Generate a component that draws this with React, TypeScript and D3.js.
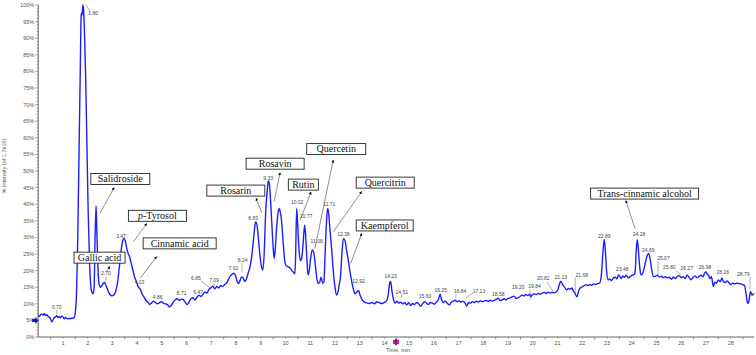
import React from "react";
import * as d3 from "d3";

// ---------- DATA ----------
// chromatogram trace: [retention time (min), % intensity]
const chromatogram: [number, number][] = [
  [0,6.6],[0.05,6.2],[0.1,6.8],[0.15,6.9],[0.2,6.6],[0.25,7.0],[0.3,6.5],[0.35,6.7],[0.4,6.2],[0.45,6.0],[0.5,5.4],[0.55,4.5],[0.6,5.2],[0.65,5.8],[0.7,6.0],[0.75,6.4],[0.8,5.9],[0.85,6.2],[0.9,5.7],[0.95,6.3],[1.0,6.1],[1.05,5.5],[1.1,5.9],[1.15,5.6],[1.2,5.5],[1.25,5.6],[1.3,5.5],[1.35,5.7],[1.4,5.6],[1.45,5.8],
  [1.5,7.5],[1.55,13],[1.6,30],[1.65,55],[1.7,80],[1.74,97],[1.76,97.5],[1.78,97],[1.8,100],[1.83,99],[1.87,92],[1.92,78],[1.97,58],[2.02,38],[2.07,24],[2.12,16],[2.17,13.5],[2.22,13],[2.26,15],[2.3,30],[2.34,39.5],[2.37,32],[2.41,22],[2.46,16],[2.52,15],[2.6,15.8],[2.68,16.5],[2.74,15.5],[2.82,14],[2.9,12.8],[2.98,12.4],[3.05,12.6],[3.12,13.5],[3.2,16],[3.28,21],[3.36,26.5],[3.43,29.3],[3.47,29.7],[3.52,29],[3.6,26],[3.7,24],[3.8,21],[3.9,18],[3.98,16.5],[4.05,15],[4.12,14.5],[4.2,13],[4.28,12],[4.36,11],[4.45,10.3],[4.5,9.8],[4.58,10.2],[4.66,10.8],[4.74,10.4],[4.82,10],[4.9,10.3],[4.98,10.6],[5.06,10.2],[5.14,10],[5.22,9.8],[5.3,9.1],[5.38,9.5],[5.46,10.5],[5.54,11.2],[5.62,11.5],[5.7,11],[5.78,11.4],[5.86,11.3],[5.94,10.5],[6.02,9.8],[6.1,10.5],[6.18,11.6],[6.26,11.8],[6.34,11.2],[6.42,12],[6.5,12.6],[6.58,12.2],[6.66,12.8],[6.74,13.6],[6.82,13.2],[6.9,14.3],[6.98,14.8],[7.06,15.3],[7.14,14.5],[7.22,15.2],[7.3,14.8],[7.38,15.5],[7.46,15.2],[7.54,15.8],[7.62,16.3],[7.7,17.5],[7.78,18.5],[7.86,19],[7.92,19.2],[7.98,18.5],[8.04,16.8],[8.1,16.1],[8.16,17],[8.22,18],[8.27,18],[8.32,17.2],[8.37,16.7],[8.44,18],[8.5,19.5],[8.56,21],[8.62,23.5],[8.68,27.5],[8.74,32],[8.79,34.7],[8.84,34],[8.9,30],[8.96,25],[9.02,21.5],[9.08,20.2],[9.13,24],[9.2,38],[9.26,44],[9.3,46.8],[9.33,47],[9.37,44],[9.44,35],[9.5,27],[9.54,23.7],[9.58,26],[9.64,33],[9.7,37.5],[9.74,38.7],[9.78,38],[9.84,35],[9.9,29],[9.96,23.5],[10.02,21.5],[10.1,21.2],[10.18,20.8],[10.26,20],[10.32,19.5],[10.38,19],[10.41,25],[10.45,38.7],[10.49,34],[10.55,26],[10.6,23],[10.66,24],[10.72,29],[10.77,33.7],[10.81,31],[10.86,24],[10.91,18.7],[10.96,20],[11.02,24],[11.08,26.2],[11.14,25.5],[11.2,22],[11.26,18],[11.32,16.1],[11.38,16.5],[11.44,18],[11.5,16.2],[11.55,16.5],[11.6,25],[11.66,35],[11.7,38.7],[11.74,37.5],[11.8,32],[11.87,26],[11.93,20],[12.0,15],[12.06,12.6],[12.12,13.5],[12.17,15.6],[12.22,18],[12.28,25],[12.34,29.6],[12.4,29.2],[12.47,26],[12.54,23],[12.6,20],[12.67,17],[12.74,14.5],[12.81,13],[12.88,13.5],[12.95,14],[13.02,12.5],[13.1,11.2],[13.2,10.5],[13.3,10.2],[13.4,10.1],[13.5,10.4],[13.6,10],[13.7,10.6],[13.8,10.3],[13.9,10.1],[14.0,10.4],[14.08,10.8],[14.15,12.5],[14.21,16.2],[14.25,16.7],[14.3,14],[14.36,11.5],[14.43,10.2],[14.5,10.8],[14.58,10.2],[14.66,10.5],[14.74,10],[14.82,10.4],[14.9,9.7],[14.98,10.3],[15.06,9.5],[15.14,10.1],[15.22,9.8],[15.3,10.4],[15.38,10],[15.46,9.3],[15.54,10],[15.62,10.6],[15.7,10.2],[15.78,9.8],[15.86,10.4],[15.94,10.2],[16.02,9.9],[16.1,10.5],[16.18,11.2],[16.25,12.9],[16.3,11.5],[16.38,10.4],[16.46,10.8],[16.54,10.2],[16.62,9.6],[16.7,10.4],[16.78,10.8],[16.86,11.1],[16.94,10.6],[17.02,10.9],[17.1,10.5],[17.18,10.8],[17.26,10.2],[17.33,9.3],[17.4,10.4],[17.48,10.2],[17.56,10.6],[17.64,10.4],[17.72,10.8],[17.8,10.5],[17.88,10.9],[17.96,10.6],[18.04,10.9],[18.12,11],[18.2,10.7],[18.28,11.1],[18.36,10.8],[18.44,11],[18.52,11.4],[18.6,11.7],[18.68,11],[18.76,11.2],[18.84,11.5],[18.92,11.2],[19.0,11.6],[19.08,11.8],[19.16,12.1],[19.25,12.3],[19.32,11.6],[19.4,11.8],[19.48,12.2],[19.56,12.6],[19.64,12.4],[19.72,12.8],[19.8,12.5],[19.88,12.9],[19.92,12.1],[19.98,12.8],[20.06,13],[20.14,12.8],[20.22,13.1],[20.3,12.9],[20.38,13.2],[20.46,13.4],[20.54,13.1],[20.62,13.5],[20.7,13.3],[20.78,13.4],[20.86,13.3],[20.94,13.6],[21.0,14],[21.06,15.5],[21.13,16.8],[21.2,15.8],[21.28,15],[21.36,14.2],[21.44,14.6],[21.52,14.4],[21.58,14.8],[21.64,13.8],[21.7,13.2],[21.78,12.1],[21.84,13.5],[21.9,14.7],[21.98,15],[22.06,15.4],[22.14,15.7],[22.22,15.5],[22.3,15.8],[22.38,15.6],[22.46,16],[22.54,15.8],[22.62,16.1],[22.7,16.3],[22.76,18],[22.82,24],[22.86,28],[22.89,29.3],[22.93,26],[22.98,20],[23.04,17.2],[23.1,17.5],[23.18,17],[23.26,17.8],[23.34,18],[23.4,17.5],[23.46,18.7],[23.52,18.2],[23.58,17.6],[23.64,18.4],[23.7,18],[23.78,18.6],[23.86,17.8],[23.94,18.2],[24.02,18.6],[24.1,18.8],[24.14,20],[24.18,26],[24.22,29.3],[24.26,27],[24.31,22],[24.36,19],[24.4,18.7],[24.46,19.5],[24.54,22],[24.62,24.5],[24.68,25.2],[24.74,23.5],[24.8,20.5],[24.88,18.2],[24.96,18.3],[25.04,18.6],[25.12,18.1],[25.2,18.3],[25.28,17.9],[25.36,18.2],[25.44,17.8],[25.52,18],[25.6,17.4],[25.68,18.1],[25.76,17.6],[25.84,18.3],[25.92,18.5],[26.0,17.9],[26.08,18.2],[26.16,17.6],[26.24,18.7],[26.32,17.9],[26.4,17.2],[26.48,18],[26.56,18.4],[26.64,17.8],[26.72,18.3],[26.8,18.6],[26.88,18.1],[26.94,19.2],[26.99,19.7],[27.04,19],[27.1,18.6],[27.16,17.6],[27.22,18.2],[27.3,15.2],[27.36,16.5],[27.42,16.2],[27.5,17.2],[27.58,16.6],[27.64,17.8],[27.7,16.8],[27.78,16.4],[27.86,16.9],[27.94,16.2],[28.0,15.8],[28.08,16.2],[28.16,16],[28.24,16.2],[28.32,16.1],[28.4,16],[28.48,15.8],[28.56,15.5],[28.62,13],[28.67,10.5],[28.71,10.1],[28.75,11.5],[28.8,13.7],[28.86,12.6],[28.92,13],[28.95,12.8]
];

// retention-time labels: text, anchor time, anchor % (label centre)
const peakLabelText = ["0.70","1.80","2.70","3.47","4.03","4.86","5.71","6.47","6.85","7.09","7.92","8.24","8.83","9.33","10.02","10.77","11.08","11.71","12.38","12.92","14.23","14.51","15.60","16.25","16.84","17.13","18.58","19.20","19.84","20.82","21.13","21.68","22.89","23.48","24.28","24.69","25.07","25.80","26.27","26.98","28.16","28.79"];
const peakLabelTime = [0.75,2.22,2.74,3.35,4.09,4.83,5.8,6.47,6.38,7.11,7.89,8.27,8.69,9.3,10.47,10.83,11.26,11.77,12.34,12.95,14.25,14.7,15.64,16.28,17.06,17.82,18.6,19.41,20.07,20.42,21.13,21.98,22.89,23.62,24.29,24.67,25.28,25.52,26.22,26.96,27.68,28.51];
const peakLabelPct = [9.1,97.6,19.3,30.4,16.4,12.1,13.2,13.6,17.7,17.2,20.7,23.2,35.8,47.8,40.7,36.4,28.8,40.1,31.0,16.7,18.2,13.6,12.2,14.2,13.9,13.9,13.0,15.0,15.4,17.7,17.9,18.5,30.5,20.5,30.9,26.2,23.7,21.0,20.7,21.0,19.4,19.0];

// leader lines for labels: [t1, p1, t2, p2]
const leaderLines: [number, number, number, number][] = [
  [1.93,100,2.09,98.2],[0.75,8.1,0.75,6.9],[2.74,18.1,2.74,16.9],[4.1,15.4,4.1,14.2],
  [6.58,16.9,6.95,14.8],[7.11,16.3,7.11,15.1],[8.24,22.3,8.24,19.6],[14.7,12.8,14.7,11.7],
  [16.89,13,16.89,11.7],[17.58,13.3,17.3,11.7],[19.89,14.3,19.89,11.1],[20.57,16.6,20.86,13.3],
  [21.71,17.8,21.71,13.3],[25.06,22.9,25.06,18.7],[25.79,19.9,26.0,18.7],[28.78,18.1,28.78,14.2]
];

// compound annotations
const compoundNames = ["Salidroside","Gallic acid","p-Tyrosol","Cinnamic acid","Rosarin","Rosavin","Rutin","Quercetin","Quercitrin","Kaempferol","Trans-cinnamic alcohol"];
const compoundBoxTime = [3.32,2.48,4.82,5.72,7.99,9.58,10.72,12.05,14.03,14.01,24.52];
const compoundBoxPct = [47.6,23.9,36.5,28.2,44.1,52.2,45.9,56.6,46.5,33.6,43.2];
const compoundArrowFrom: [number, number][] = [[2.5,37.3],[2.74,19.6],[3.85,28.7],[4.12,17.7],[9.04,37.4],[9.54,40.8],[10.59,35.2],[11.19,26.7],[11.93,31.7],[12.64,22.2],[24.13,32.7]];
const compoundArrowTo: [number, number][] = [[3.07,45],[2.9,21.2],[4.39,34.2],[4.79,24.2],[8.81,41.8],[9.78,49.5],[11.03,43.7],[11.93,53.3],[13.08,43.8],[13.08,31.2],[23.76,41.1]];

const xTicks = d3.range(1, 29);
const yTicks = d3.range(0, 101, 5);

// ---------- LAYOUT ----------
const W = 756, H = 355;
const boxWidths = [59,51,58,73,58,58,30,59,58,57,108];
const BOX_H = 11;

export default function App() {
  const x = d3.scaleLinear().domain([0, 28.95]).range([38.2, 754.2]);
  const y = d3.scaleLinear().domain([0, 100]).range([337, 5]);
  const line = d3.line<[number, number]>().x(d => x(d[0])).y(d => y(d[1])).curve(d3.curveMonotoneX);
  const gray = "#555";
  const axisColor = "#666";
  const minorY = d3.range(0, 101, 1);
  const halfTicks = d3.range(0.5, 29, 1);
  const star = d3.symbol(d3.symbolAsterisk, 30)();

  return (
    <svg width={W} height={H} style={{ position: "absolute", left: 0, top: 0, background: "#fff" }}>
      <defs>
        <marker id="ah" viewBox="0 0 8 8" refX="7" refY="4" markerWidth="5" markerHeight="5" orient="auto">
          <path d="M0,0 L8,4 L0,8 z" fill="#111" />
        </marker>
      </defs>
      {/* y axis */}
      <line x1={x(0)} x2={x(0)} y1={y(100)} y2={y(0)} stroke={axisColor} strokeWidth={1} />
      {minorY.map(v => (
        <line key={"my" + v} x1={x(0) - (v % 5 === 0 ? 3 : 1.5)} x2={x(0)} y1={y(v)} y2={y(v)} stroke={axisColor} strokeWidth={0.6} />
      ))}
      {yTicks.map(v => (
        <text key={"yt" + v} x={x(0) - 4} y={y(v) + 2} textAnchor="end" fontSize={5.5} fontFamily="Liberation Sans, Arial" fill={gray}>{v + "%"}</text>
      ))}
      <text transform={`translate(6,166) rotate(-90)`} textAnchor="middle" fontSize={5.5} fontFamily="Liberation Sans, Arial" fill={gray}>% Intensity (of 1.7e10)</text>
      {/* x axis */}
      <line x1={x(0)} x2={x(28.95)} y1={y(0)} y2={y(0)} stroke={axisColor} strokeWidth={1} />
      {halfTicks.map(v => (
        <line key={"hx" + v} x1={x(v)} x2={x(v)} y1={y(0)} y2={y(0) + 2.5} stroke={axisColor} strokeWidth={0.7} />
      ))}
      {xTicks.map(v => (
        <line key={"mx" + v} x1={x(v)} x2={x(v)} y1={y(0)} y2={y(0) + 1.5} stroke={axisColor} strokeWidth={0.7} />
      ))}
      {xTicks.map(v => (
        <text key={"xt" + v} x={x(v)} y={y(0) + 8} textAnchor="middle" fontSize={5.5} fontFamily="Liberation Sans, Arial" fill={gray}>{v}</text>
      ))}
      <text x={x(14.55)} y={352} textAnchor="middle" fontSize={5.5} fontFamily="Liberation Sans, Arial" fill={gray}>Time, min</text>
      <path d={star || ""} transform={`translate(${x(14.47)},${y(0) + 5})`} fill="none" stroke="#8e1a8e" strokeWidth={2} />
      {/* start marker */}
      <path d={`M${x(0) - 6},${y(5) - 1.6} L${x(0) - 3},${y(5) - 1.6} L${x(0) - 3},${y(5) - 3.4} L${x(0) + 0.5},${y(5)} L${x(0) - 3},${y(5) + 3.4} L${x(0) - 3},${y(5) + 1.6} L${x(0) - 6},${y(5) + 1.6} Z`} fill="#1010d0" />
      {/* trace */}
      <path d={line(chromatogram) || ""} fill="none" stroke="#1e1eff" strokeWidth={1.4} strokeLinejoin="round" />
      {/* leader lines */}
      {leaderLines.map((l, i) => (
        <line key={"ll" + i} x1={x(l[0])} y1={y(l[1])} x2={x(l[2])} y2={y(l[3])} stroke="#777" strokeWidth={0.6} />
      ))}
      {/* peak labels */}
      {peakLabelText.map((t, i) => (
        <text key={"pl" + i} x={x(peakLabelTime[i])} y={y(peakLabelPct[i]) + 1.8} textAnchor="middle" fontSize={5} fontFamily="Liberation Sans, Arial" fill="#444">{t}</text>
      ))}
      {/* arrows */}
      {compoundNames.map((n, i) => (
        <line key={"ar" + i} x1={x(compoundArrowFrom[i][0])} y1={y(compoundArrowFrom[i][1])} x2={x(compoundArrowTo[i][0])} y2={y(compoundArrowTo[i][1])} stroke="#444" strokeWidth={0.6} markerEnd="url(#ah)" />
      ))}
      {/* boxes */}
      {compoundNames.map((n, i) => {
        const cx = x(compoundBoxTime[i]);
        const cy = y(compoundBoxPct[i]);
        const w = boxWidths[i];
        return (
          <g key={"bx" + i}>
            <rect x={cx - w / 2} y={cy - BOX_H / 2} width={w} height={BOX_H} fill="#fff" stroke="#222" strokeWidth={0.9} />
            <text x={cx} y={cy + 3.4} textAnchor="middle" fontSize={10} fontFamily="Liberation Serif, Times New Roman, serif" fill="#111">
              {n.startsWith("p-") ? (<><tspan fontStyle="italic">p</tspan>{n.slice(1)}</>) : n}
            </text>
          </g>
        );
      })}
    </svg>
  );
}
